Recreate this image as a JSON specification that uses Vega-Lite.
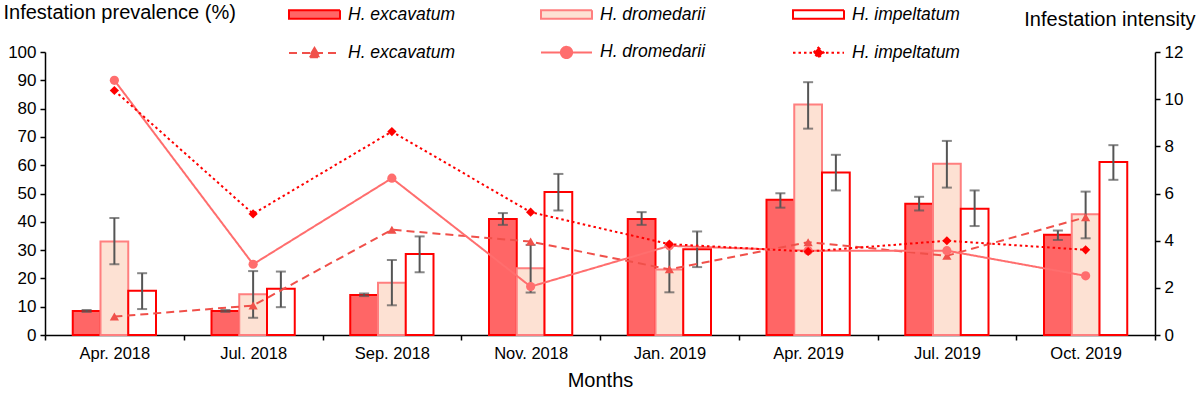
{
  "$schema": "https://vega.github.io/schema/vega-lite/v6.json",
  "width": 1110,
  "height": 283,
  "autosize": {"type": "none"},
  "padding": {"left": 45, "top": 52, "right": 45, "bottom": 58},
  "background": "white",
  "config": {
    "view": {"stroke": null},
    "font": "Liberation Sans",
    "axis": {"domainColor": "black", "tickColor": "black", "labelColor": "black", "titleColor": "black", "grid": false, "domainWidth": 1.5, "tickWidth": 1.5, "titleFontWeight": "normal"}
  },
  "datasets": {
    "bars": [
      {"month": "Apr. 2018", "species": "H. excavatum", "intensity": 1.02, "lower": 0.98, "upper": 1.06},
      {"month": "Apr. 2018", "species": "H. dromedarii", "intensity": 3.96, "lower": 3.0, "upper": 4.96},
      {"month": "Apr. 2018", "species": "H. impeltatum", "intensity": 1.88, "lower": 1.1, "upper": 2.62},
      {"month": "Jul. 2018", "species": "H. excavatum", "intensity": 1.02, "lower": 0.98, "upper": 1.06},
      {"month": "Jul. 2018", "species": "H. dromedarii", "intensity": 1.73, "lower": 0.73, "upper": 2.71},
      {"month": "Jul. 2018", "species": "H. impeltatum", "intensity": 1.96, "lower": 1.18, "upper": 2.69},
      {"month": "Sep. 2018", "species": "H. excavatum", "intensity": 1.7, "lower": 1.65, "upper": 1.76},
      {"month": "Sep. 2018", "species": "H. dromedarii", "intensity": 2.22, "lower": 1.26, "upper": 3.18},
      {"month": "Sep. 2018", "species": "H. impeltatum", "intensity": 3.43, "lower": 2.66, "upper": 4.18},
      {"month": "Nov. 2018", "species": "H. excavatum", "intensity": 4.92, "lower": 4.67, "upper": 5.17},
      {"month": "Nov. 2018", "species": "H. dromedarii", "intensity": 2.83, "lower": 1.8, "upper": 3.82},
      {"month": "Nov. 2018", "species": "H. impeltatum", "intensity": 6.06, "lower": 5.28, "upper": 6.83},
      {"month": "Jan. 2019", "species": "H. excavatum", "intensity": 4.92, "lower": 4.67, "upper": 5.21},
      {"month": "Jan. 2019", "species": "H. dromedarii", "intensity": 2.78, "lower": 1.81, "upper": 3.79},
      {"month": "Jan. 2019", "species": "H. impeltatum", "intensity": 3.64, "lower": 2.88, "upper": 4.39},
      {"month": "Apr. 2019", "species": "H. excavatum", "intensity": 5.74, "lower": 5.4, "upper": 6.01},
      {"month": "Apr. 2019", "species": "H. dromedarii", "intensity": 9.77, "lower": 8.75, "upper": 10.72},
      {"month": "Apr. 2019", "species": "H. impeltatum", "intensity": 6.89, "lower": 6.13, "upper": 7.64},
      {"month": "Jul. 2019", "species": "H. excavatum", "intensity": 5.57, "lower": 5.28, "upper": 5.86},
      {"month": "Jul. 2019", "species": "H. dromedarii", "intensity": 7.26, "lower": 6.25, "upper": 8.23},
      {"month": "Jul. 2019", "species": "H. impeltatum", "intensity": 5.35, "lower": 4.62, "upper": 6.13},
      {"month": "Oct. 2019", "species": "H. excavatum", "intensity": 4.25, "lower": 4.03, "upper": 4.43},
      {"month": "Oct. 2019", "species": "H. dromedarii", "intensity": 5.12, "lower": 4.1, "upper": 6.08},
      {"month": "Oct. 2019", "species": "H. impeltatum", "intensity": 7.34, "lower": 6.58, "upper": 8.05}
    ],
    "lines": [
      {"month": "Apr. 2018", "series": "H. excavatum", "prevalence": 6.5},
      {"month": "Jul. 2018", "series": "H. excavatum", "prevalence": 10.4},
      {"month": "Sep. 2018", "series": "H. excavatum", "prevalence": 37.2},
      {"month": "Nov. 2018", "series": "H. excavatum", "prevalence": 33.0},
      {"month": "Jan. 2019", "series": "H. excavatum", "prevalence": 23.2},
      {"month": "Apr. 2019", "series": "H. excavatum", "prevalence": 32.8},
      {"month": "Jul. 2019", "series": "H. excavatum", "prevalence": 28.0},
      {"month": "Oct. 2019", "series": "H. excavatum", "prevalence": 41.6},
      {"month": "Apr. 2018", "series": "H. dromedarii", "prevalence": 90.0},
      {"month": "Jul. 2018", "series": "H. dromedarii", "prevalence": 25.0},
      {"month": "Sep. 2018", "series": "H. dromedarii", "prevalence": 55.4},
      {"month": "Nov. 2018", "series": "H. dromedarii", "prevalence": 17.1},
      {"month": "Jan. 2019", "series": "H. dromedarii", "prevalence": 31.5},
      {"month": "Apr. 2019", "series": "H. dromedarii", "prevalence": 29.8},
      {"month": "Jul. 2019", "series": "H. dromedarii", "prevalence": 29.8},
      {"month": "Oct. 2019", "series": "H. dromedarii", "prevalence": 20.9},
      {"month": "Apr. 2018", "series": "H. impeltatum", "prevalence": 86.4},
      {"month": "Jul. 2018", "series": "H. impeltatum", "prevalence": 42.8},
      {"month": "Sep. 2018", "series": "H. impeltatum", "prevalence": 71.9},
      {"month": "Nov. 2018", "series": "H. impeltatum", "prevalence": 43.4},
      {"month": "Jan. 2019", "series": "H. impeltatum", "prevalence": 32.1},
      {"month": "Apr. 2019", "series": "H. impeltatum", "prevalence": 29.5},
      {"month": "Jul. 2019", "series": "H. impeltatum", "prevalence": 33.3},
      {"month": "Oct. 2019", "series": "H. impeltatum", "prevalence": 30.1}
    ]
  },
  "layer": [
    {
      "data": {"name": "bars"},
      "encoding": {
        "x": {
          "field": "month", "type": "nominal",
          "sort": ["Apr. 2018", "Jul. 2018", "Sep. 2018", "Nov. 2018", "Jan. 2019", "Apr. 2019", "Jul. 2019", "Oct. 2019"],
          "scale": {"paddingInner": 0, "paddingOuter": 0},
          "axis": {"title": "Months", "titleFontSize": 20, "titlePadding": 9, "labelAngle": 0, "labelFontSize": 16.5, "labelPadding": 5, "tickBand": "extent", "tickSize": 5}
        },
        "xOffset": {
          "field": "species", "type": "nominal",
          "sort": ["H. excavatum", "H. dromedarii", "H. impeltatum"],
          "scale": {"paddingInner": 0, "paddingOuter": 1.1}
        }
      },
      "layer": [
        {
          "mark": {"type": "bar", "strokeWidth": 2},
          "encoding": {
            "y": {
              "field": "intensity", "type": "quantitative",
              "scale": {"domain": [0, 12], "nice": false},
              "axis": {"orient": "right", "values": [0, 2, 4, 6, 8, 10, 12], "labelFontSize": 17, "tickSize": 5, "labelPadding": 4, "title": "Infestation intensity", "titleFontSize": 20, "titleAngle": 0, "titleAlign": "right", "titleBaseline": "alphabetic", "titleX": 40, "titleY": -27}
            },
            "fill": {
              "field": "species", "type": "nominal",
              "sort": ["H. excavatum", "H. dromedarii", "H. impeltatum"],
              "scale": {"domain": ["H. excavatum", "H. dromedarii", "H. impeltatum"], "range": ["#ff6666", "#fde1d3", "#ffffff"]},
              "legend": {
                "orient": "none", "legendX": 243, "legendY": -64, "direction": "horizontal", "columns": 3, "gridAlign": "all", "columnPadding": 81, "title": null, "padding": 0,
                "symbolType": "M-1,-0.17H1V0.17H-1Z", "symbolSize": 2601, "symbolStrokeWidth": 2, "symbolOpacity": 1,
                "labelFontSize": 17.5, "labelFontStyle": "italic", "labelOffset": 7, "labelColor": "black", "labelLimit": 300,
                "encode": {"symbols": {"update": {
                  "shape": {"value": "M-1,-0.17H1V0.17H-1Z"},
                  "strokeDash": {"value": [1, 0]},
                  "stroke": {"signal": "datum.value === 'H. dromedarii' ? '#ff7f7f' : '#ff0000'"}
                }}}
              }
            },
            "stroke": {
              "field": "species", "type": "nominal",
              "scale": {"domain": ["H. excavatum", "H. dromedarii", "H. impeltatum"], "range": ["#ff0000", "#ff7f7f", "#ff0000"]},
              "legend": null
            }
          }
        },
        {
          "mark": {"type": "rule", "color": "#555555", "strokeWidth": 2},
          "encoding": {
            "y": {"field": "lower", "type": "quantitative"},
            "y2": {"field": "upper"}
          }
        },
        {
          "mark": {"type": "tick", "orient": "horizontal", "size": 10, "thickness": 2, "color": "#555555"},
          "encoding": {"y": {"field": "lower", "type": "quantitative"}}
        },
        {
          "mark": {"type": "tick", "orient": "horizontal", "size": 10, "thickness": 2, "color": "#555555"},
          "encoding": {"y": {"field": "upper", "type": "quantitative"}}
        }
      ]
    },
    {
      "data": {"name": "lines"},
      "encoding": {
        "x": {
          "field": "month", "type": "nominal",
          "sort": ["Apr. 2018", "Jul. 2018", "Sep. 2018", "Nov. 2018", "Jan. 2019", "Apr. 2019", "Jul. 2019", "Oct. 2019"]
        },
        "y": {
          "field": "prevalence", "type": "quantitative",
          "scale": {"domain": [0, 100], "nice": false},
          "axis": {"orient": "left", "values": [0, 10, 20, 30, 40, 50, 60, 70, 80, 90, 100], "labelFontSize": 17, "tickSize": 5, "labelPadding": 4, "title": "Infestation prevalence (%)", "titleFontSize": 20, "titleAngle": 0, "titleAlign": "left", "titleBaseline": "alphabetic", "titleX": -42, "titleY": -33.5}
        }
      },
      "layer": [
        {
          "mark": {"type": "line", "strokeWidth": 2},
          "encoding": {
            "stroke": {
              "field": "series", "type": "nominal",
              "scale": {"domain": ["H. excavatum", "H. dromedarii", "H. impeltatum"], "range": ["#f0504a", "#ff6e6e", "#ff0000"]},
              "legend": {
                "orient": "none", "legendX": 243, "legendY": -26.5, "direction": "horizontal", "columns": 3, "gridAlign": "all", "columnPadding": 81, "title": null, "padding": 0,
                "symbolType": "M-1,0H1", "symbolSize": 2601, "symbolStrokeWidth": 2, "symbolOpacity": 1,
                "labelFontSize": 17.5, "labelFontStyle": "italic", "labelOffset": 7, "labelColor": "black", "labelLimit": 300,
                "encode": {"symbols": {"update": {
                  "shape": {"signal": "datum.value === 'H. excavatum' ? 'M-1,0H1M0,-0.2L0.22,0.17L-0.22,0.17Z' : datum.value === 'H. dromedarii' ? 'M-1,0H1M0.22,0A0.22,0.22,0,1,1,-0.22,0A0.22,0.22,0,1,1,0.22,0Z' : 'M-1,0H1M0,-0.2L0.2,0L0,0.2L-0.2,0Z'"},
                  "fill": {"signal": "datum.value === 'H. excavatum' ? '#f0504a' : datum.value === 'H. dromedarii' ? '#ff6e6e' : '#ff0000'"},
                  "strokeDash": {"signal": "datum.value === 'H. excavatum' ? [8, 5] : datum.value === 'H. dromedarii' ? [1, 0] : [2.5, 3]"}
                }}}
              }
            },
            "strokeDash": {
              "field": "series", "type": "nominal",
              "scale": {"domain": ["H. dromedarii", "H. excavatum", "H. impeltatum"], "range": [[1, 0], [8, 5], [2.5, 3]]},
              "legend": null
            }
          }
        },
        {
          "mark": {"type": "point", "filled": true, "opacity": 1, "size": 85},
          "encoding": {
            "color": {
              "field": "series", "type": "nominal",
              "scale": {"domain": ["H. impeltatum", "H. dromedarii", "H. excavatum"], "range": ["#ff0000", "#ff6e6e", "#f0504a"]},
              "legend": null
            },
            "shape": {
              "field": "series", "type": "nominal",
              "scale": {"domain": ["H. impeltatum", "H. dromedarii", "H. excavatum"], "range": ["diamond", "circle", "triangle-up"]},
              "legend": null
            }
          }
        }
      ]
    }
  ],
  "resolve": {"scale": {"y": "independent", "stroke": "independent", "shape": "independent", "strokeDash": "independent", "color": "independent"}}
}
